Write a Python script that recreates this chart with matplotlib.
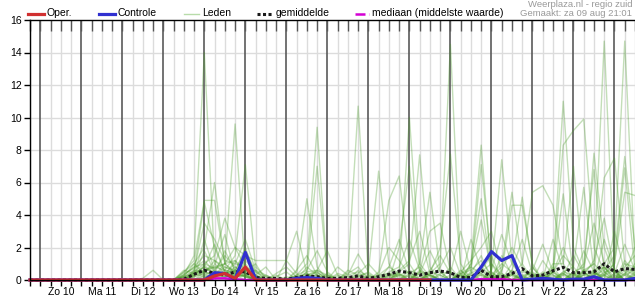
import matplotlib
matplotlib.use('Agg')
import matplotlib.pyplot as plt
from matplotlib.lines import Line2D

plt.rcParams['font.family'] = ['Liberation Sans', 'DejaVu Sans']

# 6-hourly steps, step 0 = za 09 18:00 ... step 59 = zo 24 12:00
steps = list(range(60))
day_labels = ['Zo 10', 'Ma 11', 'Di 12', 'Wo 13', 'Do 14', 'Vr 15', 'Za 16',
              'Zo 17', 'Ma 18', 'Di 19', 'Wo 20', 'Do 21', 'Vr 22', 'Za 23']
y_ticks = [0, 2, 4, 6, 8, 10, 12, 14, 16]

oper = [0, 0,0,0,0, 0,0,0,0, 0,0,0,0,
        0,0,0,0, 0,0.25,0.4,0.1, 0.8,0,0,0, 0,0,0,0, 0,0,0,0, 0,0,0,0, 0,0,0]

controle = [0, 0,0,0,0, 0,0,0,0, 0,0,0,0,
            0,0,0,0, 0,0.45,0.4,0.05, 1.7,0.05,0,0, 0,0.1,0.15,0.1, 0,0,0,0,
            0,0,0,0, 0,0,0,0, 0,0,0,0.8, 1.75,1.2,1.5,0, 0.05,0.1,0.05,0,
            0.05,0.05,0.2,0, 0,0,0.1]

gemiddelde = [0, 0,0,0,0, 0,0,0,0, 0,0,0,0,
              0,0,0.05,0.35, 0.6,0.4,0.3,0.5, 0.5,0.15,0.1,0.1, 0.05,0.15,0.25,0.2,
              0.1,0.1,0.15,0.25, 0.1,0.2,0.35,0.55, 0.45,0.3,0.45,0.55,
              0.45,0.15,0.15,0.6, 0.2,0.2,0.4,0.7, 0.25,0.3,0.57,0.78,
              0.45,0.45,0.5,1.0, 0.5,0.7,0.65]

mediaan = [0, 0,0,0,0, 0,0,0,0, 0,0,0,0,
           0,0,0,0, 0,0.1,0.1,0.05, 0,0,0,0, 0,0,0,0, 0,0,0,0,
           0,0,0,0, 0,0,0,0, 0,0,0,0.05, 0.05,0.05,0,0, 0,0,0,0,
           0,0,0,0, 0,0,0]

leden = [
    [0, 0,0,0,0, 0,0,0,0, 0,0,0,0, 0,0,0.3,1.5, 14.0,1.0,0.4,0.2, 0.3,0,0,0, 0,0.2,0.4,0, 0,0,0.3,0.5, 0,0,0,0.3, 0.5,0,0,0, 0,0.4,0.6,1.2, 0.3,0,0,0.2, 0,0,0.5,2.0, 0.4,0,0.3,0.8, 0.2,0,0],
    [0, 0,0,0,0, 0,0,0,0, 0,0,0,0, 0,0,0,0.4, 0.8,0.3,1.0,9.6, 0.5,0,0,0, 0,0,0.3,0.6, 0.2,0,0,0, 0,0.3,0.8,0.4, 0,0,0.4,1.0, 14.5,0.6,0,0, 0.3,1.0,0.5,0, 0,0,0.3,0, 0,0.5,1.0,0.3, 0,0.4,0],
    [0, 0,0,0,0, 0,0,0,0, 0,0,0,0, 0,0,0.2,0.6, 0.5,0.8,0.6,1.5, 7.1,0.8,0.2,0, 0,0.3,1.0,9.4, 0.3,0,0,0, 0.2,0,0,0, 0,0.5,0.3,0, 0,0,0.8,0.4, 0,0,0.6,0.2, 0.5,0,0,0.4, 0,0.3,0.6,1.0, 2.0,14.7,1.0],
    [0, 0,0,0,0, 0,0,0,0, 0,0,0,0, 0,0,0.5,1.2, 4.9,4.9,1.0,0.4, 0.2,0,0,0.3, 0,0,0,0.2, 0,0,0.5,10.7, 0.3,0,0,0, 0.4,0.8,0,0, 0,0.3,0,0.5, 1.0,0.3,0,0, 0,0.2,0.6,11.0, 2.0,0.5,0,0.3, 0.6,0,0.3],
    [0, 0,0,0,0, 0,0,0,0, 0,0,0,0, 0,0,0,0.5, 4.8,2.0,0.5,0.3, 0.6,0.2,0,0, 0,0.5,5.0,0.8, 0,0,0,0.2, 0,0,0.3,0.4, 10.0,1.0,0.2,0, 0,0,0.4,0.8, 0.2,0,0,0.5, 0.3,0,0,0.3, 0,0.6,1.0,14.7, 0.5,0,0.4],
    [0, 0,0,0,0, 0,0,0,0, 0,0,0,0, 0,0,0.3,0.8, 1.0,1.5,3.8,2.0, 0.8,0.3,0,0, 1.2,3.0,0.4,0, 0,0,0,0, 0,0.5,4.9,6.4, 1.0,0,0,0.3, 0,0,1.0,8.3, 0.5,0,0,0, 0,0.3,0,0.5, 0.8,5.7,0.5,0, 0,0.3,0.6],
    [0, 0,0,0,0, 0,0,0,0, 0,0,0,0, 0,0,0,0.6, 3.5,2.5,1.2,1.0, 2.5,0.6,0.3,0, 0,0,0.5,7.0, 0.3,0,0,0.2, 0.5,6.7,1.0,0, 0,0,0.3,0, 0,0.2,0,0, 0.6,7.4,1.2,0, 0,0,0.5,0, 0,0.4,7.8,2.0, 0.3,0,0],
    [0, 0,0,0,0, 0,0,0,0, 0,0,0,0, 0,0,0.2,1.0, 2.0,6.0,1.0,0.5, 0.3,0,0,0.2, 0.5,0,0,0, 0,0.4,0.2,0, 0,0,0,2.0, 7.0,0.5,0,0, 0.3,0,0,0.6, 0.2,0.8,5.4,1.0, 0,0,0,0.4, 0,0,0.3,0.6, 1.5,7.6,2.0],
    [0, 0,0,0,0, 0,0,0,0, 0,0,0,0, 0,0,0,0.3, 0.6,0.8,1.0,2.0, 1.5,1.2,1.2,1.2, 1.2,0.4,0,0, 0,0,0,0.6, 0.2,0,0,0.5, 1.0,7.7,0.8,0, 0,0,0.3,0, 0,0.5,4.6,4.6, 1.0,0,0.4,8.3, 9.2,9.9,2.0,0.5, 0,0.6,0.3],
    [0, 0,0,0,0, 0,0,0,0, 0,0,0,0, 0,0,0,0.2, 0.4,1.2,0.6,0.5, 1.0,0.2,0,0, 0,0,0.8,0.3, 0,0,0,0, 0,0.3,0.4,0, 0,1.0,5.4,0.5, 0,0,0.5,7.1, 1.0,0,0,0.3, 0.4,0,1.0,1.0, 7.0,0.5,0,0.3, 1.0,6.9,0.5],
    [0, 0,0,0,0, 0,0,0,0, 0,0,0,0, 0,0,0.4,0.7, 1.2,0.5,0.3,0.8, 0.4,0,0,0, 0,0.2,0,0, 0.4,0,0,0, 0,0,0.2,0.3, 0.2,0,0.4,2.0, 7.75,1.0,0,0, 0,0,0.3,1.0, 5.4,5.8,4.6,1.0, 0,0,0.4,0.2, 0,0.8,1.5],
    [0, 0,0,0,0, 0,0,0,0, 0,0,0,0, 0,0,0,0.3, 0.8,0.4,1.8,0.6, 0.2,0,0,0, 0,0,0.2,0.5, 0,0,0.2,0, 0.3,0,0,0, 0,0.2,0,0.4, 0.5,0,1.0,5.0, 0.3,0,0,0, 0,0.4,0.6,0, 0.3,1.0,6.8,0.5, 0,1.0,0.8],
    [0, 0,0,0,0, 0,0,0,0, 0,0,0,0, 0,0,0.2,0.5, 0.3,0.6,0.4,1.0, 0.8,0,0,0, 0,0,0,0.4, 0.2,0,0,0, 0,0,0,0, 0.6,0.3,0,0, 0,0.4,0.8,3.7, 0.5,0,1.0,5.1, 0.8,0,0.5,5.3, 0.3,0,0.4,6.3, 7.5,1.0,0.3],
    [0, 0,0,0,0, 0,0,0,0, 0,0,0,0, 0,0,0,0, 0.5,0.3,0.2,0.4, 0.3,0,0,0, 0,0,0,0, 0,0.2,0,0, 0,0,0.3,0.2, 0,0.5,3.0,3.5, 0.5,0,0,0.3, 0,0.4,0,0, 0,0,0.2,0.4, 0,0.5,0,0.4, 1.0,5.4,5.2],
    [0, 0,0,0,0, 0,0,0,0, 0,0,0,0, 0,0,0.3,0.8, 1.5,1.2,0.8,0.6, 1.8,0.5,0.2,0, 0,0.3,0.6,1.8, 0.5,0,0,0, 0,0.4,2.0,1.2, 0.3,0,0.6,1.5, 0.4,3.0,0.5,0, 0,0.6,2.0,0.8, 0,1.2,0.3,0, 0.5,0.8,3.5,1.0, 0.4,2.2,0.6],
    [0, 0,0,0,0, 0,0,0,0, 0,0,0.1,0.6, 0,0,0,0.4, 0.8,2.2,0.5,0.3, 0.5,1.0,0,0, 0.2,0,0,0.6, 1.8,0.3,0,0, 0,0,0.5,0.8, 2.5,0.6,0,0, 0,0.5,1.2,2.0, 3.0,0.4,0,0, 0.6,2.2,0.5,0, 0,0.3,1.2,3.8, 0.5,0,1.0],
    [0, 0,0,0,0, 0,0,0,0, 0,0,0,0, 0,0,0,0.3, 2.5,0.6,1.5,0.8, 0.4,0.3,0.8,0, 0,0,0.3,0.5, 0,0.8,0.3,1.6, 0.5,0,0,0, 0,0.4,1.8,0.5, 0,0,2.5,0.6, 0,1.5,0.3,0, 0.8,0,2.5,0.6, 0,1.8,0.5,0, 3.0,0.5,0],
    [0, 0,0,0,0, 0,0,0,0, 0,0,0,0, 0,0,0.2,0.4, 0.6,0.9,2.8,0.4, 0.2,0,0,0.4, 0.8,0.2,0,0, 0,0,0.6,0.3, 0,0,0,0.6, 1.2,3.0,0.4,0, 0,0.4,0,0, 0.6,2.8,1.0,0.2, 0,0,0.5,1.5, 0.8,0,0,2.5, 0.6,0.3,2.0],
    [0, 0,0,0,0, 0,0,0,0, 0,0,0,0, 0,0,0,0.2, 1.8,0.5,0.3,1.2, 0.6,0,0.3,0, 0,0.6,1.5,0.3, 0,0,0,0.4, 1.0,0.3,0,0, 0,0,0,0.8, 2.0,0.3,0,0.6, 1.5,0,0.4,0, 0,0.5,0,0.3, 1.5,0.4,0,0.8, 0,1.2,0.4],
    [0, 0,0,0,0, 0,0,0,0, 0,0,0,0, 0,0,0.5,1.0, 0.4,0.3,0.6,0.4, 1.2,0.5,0,0, 0,0,0,0.3, 0,0,0.4,0.8, 0,0,0.8,2.5, 0.5,0,0,0, 0.8,0,0.4,1.5, 0,0,0.6,2.5, 0.4,0,0.8,0, 0,0.6,0.4,0.3, 0,0.4,0.8],
    [0, 0,0,0,0, 0,0,0,0, 0,0,0,0, 0,0,0,0, 0.3,0.2,0.4,0.6, 0.8,0.3,0,0, 0,0,0.4,0, 0,0.3,0,0, 0,0,0,0, 0,0.6,0.3,0, 0,0.3,0,0, 0.4,0,0.3,0, 0,0,0,0.5, 0.3,0,0,0, 0.3,0,0.2],
    [0, 0,0,0,0, 0,0,0,0, 0,0,0,0, 0,0,0.2,0.3, 0.9,0.4,0.2,0.3, 0.2,0,0,0, 0,0,0,0, 0,0,0,0, 0,0,0.4,0.3, 0,0,0,0, 0,0,0,0.4, 0,0.3,0,0, 0,0.3,0,0, 0.4,0,0.6,0, 0,0.3,0],
    [0, 0,0,0,0, 0,0,0,0, 0,0,0,0, 0,0,0,0.5, 1.0,0.7,1.0,1.2, 0.3,0.6,0,0, 0,0,0,0, 0,0,0,0.3, 0.4,0,0,0, 0,0,0.5,0.3, 0,0,0,0, 0,0,0,0.6, 0.3,0,0,0, 0,0,0.5,0.8, 0,0,0],
    [0, 0,0,0,0, 0,0,0,0, 0,0,0,0, 0,0,0,0.2, 0.5,0.3,0.8,0.5, 2.0,0.3,0,0, 0,0,0.2,0.3, 0,0,0,0, 0,0,0,0, 0.3,0,0,0, 0,0.6,0,0, 0,0,0,0.3, 0,0,0,0, 0.5,0,0.3,0, 0.4,0,0.5],
    [0, 0,0,0,0, 0,0,0,0, 0,0,0,0, 0,0,0.6,0.4, 0.2,0.3,0.4,0.2, 0.3,0,0,0, 0,0,0.5,0.6, 0.3,0,0,0, 0,0,0,0.4, 0,0,0,0, 0,0,0.3,0.3, 0,0,0,0, 0.3,0,0,0, 0,0,0,0.5, 0.6,0,0],
    [0, 0,0,0,0, 0,0,0,0, 0,0,0,0, 0,0,0,0, 0.2,0.3,0.2,0.3, 0,0,0,0, 0,0.3,0,0, 0,0,0,0, 0,0,0.2,0, 0,0,0.3,0, 0,0,0,0, 0,0,0.4,0, 0,0,0,0, 0,0.3,0,0, 0,0,0.3],
]
for m in leden:
    assert len(m) == 60, len(m)

W, H = 635, 300
fig = plt.figure(figsize=(W / 100, H / 100), dpi=100)
ax = fig.add_axes([30 / W, 20 / H, 605 / W, 260 / H])
ax.set_xlim(0, 59)
ax.set_ylim(0, 16)

# grid
for y in y_ticks[1:-1]:
    ax.axhline(y, color='#dcdcdc', lw=1.0, zorder=0)
for s in steps:
    if s % 4 == 1:
        ax.axvline(s, color='#5a5a5a', lw=1.2, zorder=1)
    else:
        ax.axvline(s, color='#dcdcdc', lw=1.0, zorder=0)

for m in leden:
    ax.plot(steps, m, color='#4a9c28', alpha=0.33, lw=1.0, zorder=2)

ax.plot(steps, mediaan, color='#d400d4', lw=1.8, zorder=3, clip_on=False)
ax.plot(steps, gemiddelde, color='#1a1a1a', lw=2.2, dashes=(1, 0.8),
        dash_capstyle='butt', zorder=4, clip_on=False)
ax.plot(steps, controle, color='#3030d0', lw=2.3, zorder=5, clip_on=False)
ax.plot(steps[:len(oper)], oper, color='#d03030', lw=2.3, zorder=6, clip_on=False)

# axes / ticks
ax.spines['right'].set_visible(False)
for side in ['left', 'top', 'bottom']:
    ax.spines[side].set_color('black')
    ax.spines[side].set_linewidth(1.0)
    ax.spines[side].set_zorder(7)

ax.set_yticks(y_ticks)
ax.set_yticklabels([str(v) for v in y_ticks], fontsize=7.5)
ax.tick_params(axis='y', direction='out', length=4, width=1, pad=2)

ax.set_xticks(steps)
ax.set_xticklabels([])
ax.tick_params(axis='x', which='major', direction='out', length=4, width=1,
               bottom=True, top=False)
ax2 = ax.secondary_xaxis('top')
ax2.set_xticks(steps)
ax2.set_xticklabels([])
ax2.tick_params(axis='x', direction='in', length=8, width=1, color='#555555')
ax2.spines['top'].set_visible(False)

for i, lab in enumerate(day_labels):
    ax.text(3 + 4 * i, -0.75, lab, ha='center', va='center', fontsize=7.5,
            transform=ax.transData)

# legend (manual)
ly = 1 - 13.5 / H
def leg_line(x0, x1, **kw):
    fig.add_artist(Line2D([x0 / W, x1 / W], [ly, ly], transform=fig.transFigure, **kw))
def leg_text(x, s):
    fig.text(x / W, ly, s, ha='left', va='center', fontsize=7.5)

leg_line(28, 44, color='#d03030', lw=2.3)
leg_text(46.5, 'Oper.')
leg_line(99, 115, color='#3030d0', lw=2.3)
leg_text(118, 'Controle')
leg_line(184, 199, color='#b8dcaa', lw=1.0)
leg_text(202, 'Leden')
leg_line(257, 272, color='#1a1a1a', lw=2.2, dashes=(1, 0.8), dash_capstyle='butt')
leg_text(276, 'gemiddelde')
leg_line(355, 369, color='#d400d4', lw=1.8, dashes=(4, 1.5, 0.8, 1.5), dash_capstyle='butt')
leg_text(371.5, 'mediaan (middelste waarde)')

fig.text(632 / W, 1 - 4.5 / H, 'Weerplaza.nl - regio zuid', ha='right', va='center',
         fontsize=6.8, color='#999999')
fig.text(632 / W, 1 - 13.5 / H, 'Gemaakt: za 09 aug 21:01', ha='right', va='center',
         fontsize=6.8, color='#999999')

fig.savefig('out.png', dpi=100)
